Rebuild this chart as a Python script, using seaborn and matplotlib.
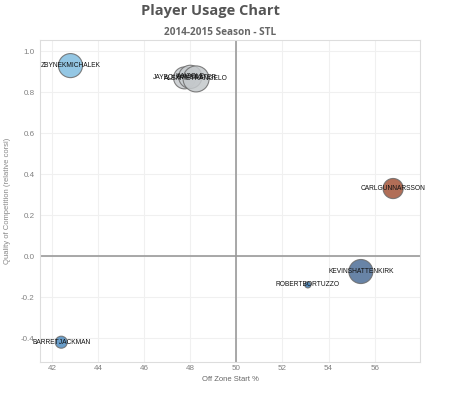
import matplotlib
matplotlib.use('Agg')
import matplotlib.pyplot as plt
import pandas as pd
import seaborn as sns

# Data
players = ['ZBYNEKMICHALEK', 'JAYBOUWMEESTER', 'IANCOLE', 'ALEXPIETRANGELO',
           'CARLGUNNARSSON', 'KEVINSHATTENKIRK', 'ROBERTBORTUZZO', 'BARRETJACKMAN']
off_zone_start = [42.8, 47.75, 48.0, 48.25, 56.8, 55.4, 53.1, 42.4]
qual_comp = [0.93, 0.87, 0.875, 0.865, 0.33, -0.075, -0.14, -0.42]
usage = [300, 250, 280, 350, 210, 300, 20, 75]
colors = ['#82bde0', '#c7cbce', '#c9cdd0', '#c4c8cb',
          '#a4553a', '#4d6e98', '#3a78b0', '#4f8cc0']

df = pd.DataFrame({'player': players, 'ozs': off_zone_start,
                   'qoc': qual_comp, 'usage': usage})

sns.set_style('whitegrid')
plt.rcParams['font.family'] = ['Liberation Sans', 'DejaVu Sans']
plt.rcParams['axes.unicode_minus'] = False

fig = plt.figure(figsize=(4.5, 3.94), dpi=100)
ax = fig.add_axes([0.089, 0.081, 0.844, 0.817])

sns.scatterplot(data=df, x='ozs', y='qoc', hue='player', size='usage',
                sizes=(min(usage), max(usage)), size_norm=(min(usage), max(usage)),
                palette=dict(zip(players, colors)), alpha=0.85,
                edgecolor='#6b6b6b', linewidth=0.8, legend=False, ax=ax, zorder=3)

for _, r in df.iterrows():
    ax.text(r['ozs'], r['qoc'], r['player'], ha='center', va='center',
            fontsize=4.8, color='#111111', zorder=4)

ax.axvline(50, color='#9a9a9a', lw=1.2, zorder=2)
ax.axhline(0, color='#9a9a9a', lw=1.2, zorder=2)

ax.set_xlim(41.48, 57.96)
ax.set_ylim(-0.517, 1.054)
ax.set_xticks([42, 44, 46, 48, 50, 52, 54, 56])
ax.set_yticks([-0.4, -0.2, 0.0, 0.2, 0.4, 0.6, 0.8, 1.0])
ax.grid(color='#f0f0f0', lw=0.8)
for s in ax.spines.values():
    s.set_color('#dddddd')
    s.set_linewidth(0.8)
ax.tick_params(labelsize=5.8, colors='#808080', length=2, width=0.5, pad=2)
ax.tick_params(axis='y', color='#cccccc')
ax.tick_params(axis='x', length=0)
ax.set_xlabel('Off Zone Start %', fontsize=5.5, color='#666666', labelpad=3)
ax.set_ylabel('Quality of Competition (relative corsi)', fontsize=5.5,
              color='#888888', labelpad=7)

fig.text(0.468, 0.973, 'Player Usage Chart', ha='center', va='center',
         fontsize=10.5, fontweight='bold', color='#555555',
         family=['Open Sans', 'DejaVu Sans'])
fig.text(0.489, 0.918, '2014-2015 Season - STL', ha='center', va='center',
         fontsize=7.2, fontweight='bold', color='#666666',
         family=['Open Sans', 'DejaVu Sans'])

fig.savefig('out.png', dpi=100)
